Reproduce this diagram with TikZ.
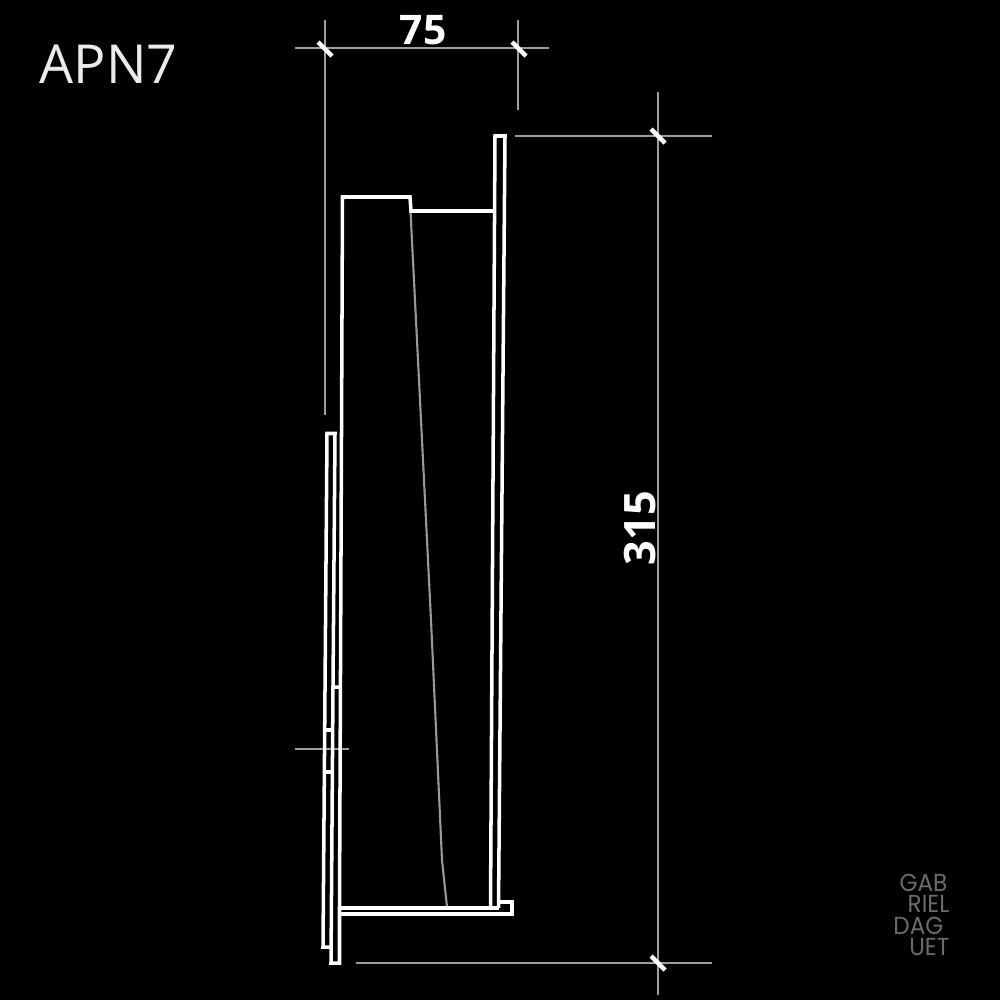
\documentclass[tikz,border=0pt]{standalone}
\usepackage{fontspec}
\setmainfont{Open Sans}
\newfontfamily\signfont{Poppins}
\definecolor{dimgrey}{gray}{0.62}
\definecolor{signgrey}{gray}{0.42}
\definecolor{cutgrey}{gray}{0.6}
\begin{document}
\begin{tikzpicture}[x=0.01cm,y=-0.01cm]
\tikzstyle{wall}=[draw=white,line width=1pt,line join=miter]
\tikzstyle{dimline}=[draw=dimgrey,line width=0.45pt]
\tikzstyle{tick}=[draw=white,line width=1.3pt]
\tikzstyle{cut}=[draw=cutgrey,line width=0.6pt]
\tikzstyle{dimtext}=[font=\bfseries\fontsize{12.3}{12.3}\selectfont,text=white,inner sep=0pt]
\tikzstyle{sign}=[font=\signfont\fontsize{7}{7}\selectfont,text=signgrey,inner sep=0pt,anchor=east,xscale=0.94]
\useasboundingbox (0,0) rectangle (1000,1000);
\fill[black] (0,0) rectangle (1000,1000);
% dimension lines
\draw[dimline](295,48)--(549,48);
\draw[dimline](325,20)--(325,415);
\draw[dimline](518,20)--(518,110);
\draw[dimline](515,136)--(712,136);
\draw[dimline](356,963)--(712,963);
\draw[dimline](658,92)--(658,995);
\draw[dimline](295,749)--(349,749);
% ticks
\draw[tick](318,42)--(332,56);
\draw[tick](512,42)--(526,56);
\draw[tick](651,129)--(665,143);
\draw[tick](651,956)--(665,970);
% section
\draw[cut](410.5,211)--(420,400)--(431,620)--(442,860)--(447,907);
\draw[wall](490.5,908)--(495,136)--(505,136)--(498.5,908);
\draw[wall](339.5,908)--(342.5,197)--(410,197)--(411,211)--(495,211);
\draw[wall](339.5,908)--(498.5,908);
\draw[wall](500,902)--(512,902)--(512,914)--(339.5,914);
\draw[wall](339.5,908)--(339.5,963)--(331,963)--(333,687)--(339.5,687);
\draw[wall](333,687)--(335,433.5)--(327,433.5)--(323,947)--(331,947);
\draw[wall](325.5,730)--(333,730);
\draw[wall](325,772)--(332.5,772);
% labels
\node[font=\fontsize{15.3}{15.3}\selectfont,text=white!92!black,inner sep=0pt] (title) at (108.5,64) {APN7};
\node[dimtext,font=\bfseries\fontsize{11.6}{11.6}\selectfont] (width) at (423,30) {75};
\node[dimtext,rotate=90] (height) at (640,528) {315};
\node[sign] (signa) at (948,883) {GAB};
\node[sign] (signb) at (950,904) {RIEL};
\node[sign] (signc) at (944,925.5) {DAG};
\node[sign] (signd) at (950,946.5) {UET};
\end{tikzpicture}
\end{document}
